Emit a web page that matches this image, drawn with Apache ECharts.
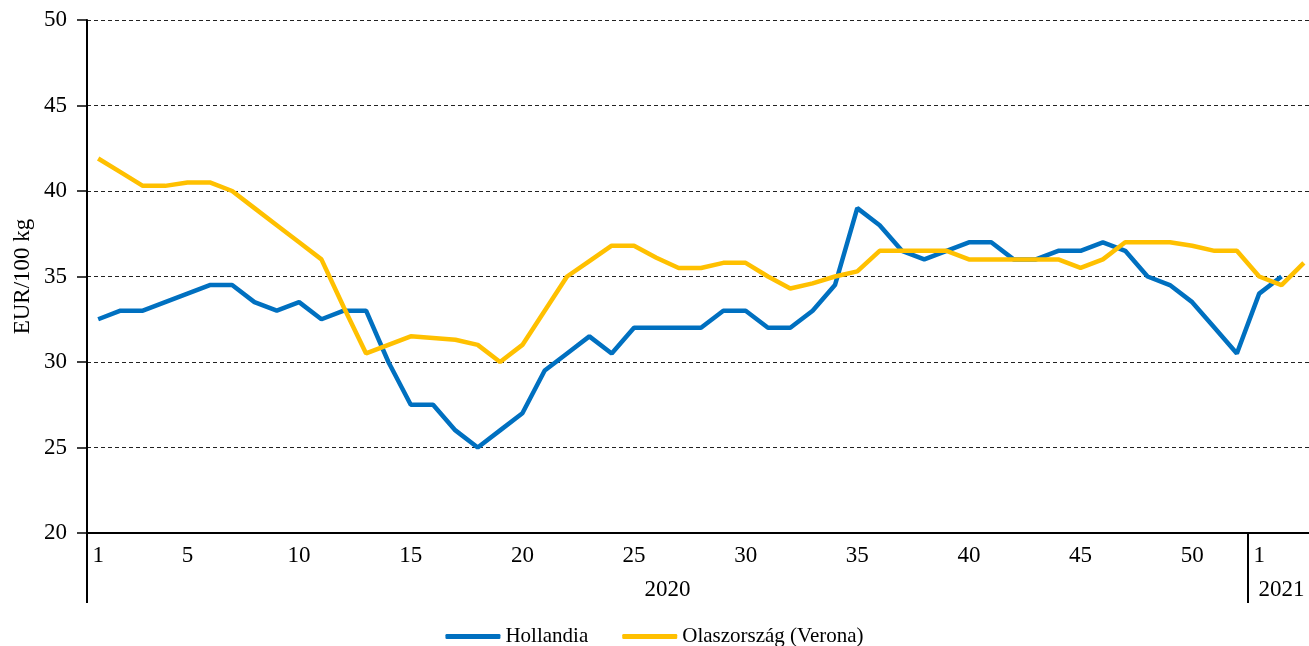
<!DOCTYPE html>
<html>
<head>
<meta charset="utf-8">
<script src="https://cdn.jsdelivr.net/npm/echarts@6/dist/echarts.min.js"></script>
<style>
  html, body { margin: 0; padding: 0; background: #fff; }
  #chart { width: 1309px; height: 646px; }
</style>
</head>
<body>
<div id="chart"></div>
<script>
// weeks: 2020 w1..w52, then 2021 w1..w3
const weeks2020 = Array.from({ length: 52 }, (_, i) => String(i + 1));
const weeks2021 = ['1', '2', '3'];
const weeks = weeks2020.concat(weeks2021);
const shownWeeks = ['1', '5', '10', '15', '20', '25', '30', '35', '40', '45', '50'];
const years = ['2020', '2021'];

const hollandia = [
  32.5, 33, 33, 33.5, 34, 34.5, 34.5, 33.5, 33, 33.5,
  32.5, 33, 33, 30, 27.5, 27.5, 26, 25, 26, 27,
  29.5, 30.5, 31.5, 30.5, 32, 32, 32, 32, 33, 33,
  32, 32, 33, 34.5, 39, 38, 36.5, 36, 36.5, 37,
  37, 36, 36, 36.5, 36.5, 37, 36.5, 35, 34.5, 33.5,
  32, 30.5, 34, 35, null
];
const olasz = [
  41.9, 41.1, 40.3, 40.3, 40.5, 40.5, 40, 39, 38, 37,
  36, 33.2, 30.5, 31, 31.5, 31.4, 31.3, 31, 30, 31,
  33, 35, 35.9, 36.8, 36.8, 36.1, 35.5, 35.5, 35.8, 35.8,
  35, 34.3, 34.6, 35, 35.3, 36.5, 36.5, 36.5, 36.5, 36,
  36, 36, 36, 36, 35.5, 36, 37, 37, 37, 36.8,
  36.5, 36.5, 35, 34.5, 35.8
];

const FONT = "'Liberation Serif', 'Times New Roman', serif";
const chart = echarts.init(document.getElementById('chart'));

const yearBoundary = weeks2020.length;
const yearCenters = [yearBoundary / 2, yearBoundary + weeks2021.length / 2];

chart.setOption({
  animation: false,
  textStyle: { fontFamily: FONT, color: '#000' },
  grid: { left: 87, top: 20, bottom: 113, width: 1228, containLabel: false, outerBoundsMode: 'none' },
  legend: {
    top: 621,
    left: 'center',
    icon: 'roundRect',
    itemWidth: 55,
    itemHeight: 5,
    itemGap: 34,
    textStyle: { fontFamily: FONT, fontSize: 21, color: '#000' },
    data: ['Hollandia', 'Olaszország (Verona)']
  },
  xAxis: [
    {
      type: 'category',
      data: weeks,
      boundaryGap: true,
      axisLine: { lineStyle: { color: '#000', width: 2 } },
      axisTick: { show: false },
      axisLabel: {
        interval: (idx, val) => (idx < yearBoundary ? shownWeeks.includes(val) : idx === yearBoundary),
        fontFamily: FONT,
        fontSize: 23,
        color: '#000',
        margin: 11
      },
      splitLine: { show: false }
    },
    {
      type: 'value',
      position: 'bottom',
      min: 0,
      max: weeks.length,
      axisLine: { show: false },
      splitLine: { show: false },
      axisTick: {
        show: true,
        customValues: [0, yearBoundary],
        length: 70,
        lineStyle: { color: '#000', width: 2 }
      },
      axisLabel: {
        customValues: yearCenters,
        formatter: (v) => years[yearCenters.indexOf(v)] || '',
        fontFamily: FONT,
        fontSize: 23,
        color: '#000',
        margin: 45
      }
    }
  ],
  yAxis: {
    type: 'value',
    min: 20,
    max: 50,
    interval: 5,
    name: 'EUR/100 kg',
    nameLocation: 'middle',
    nameGap: 53,
    nameMoveOverlap: false,
    nameTextStyle: { fontFamily: FONT, fontSize: 23, color: '#000' },
    axisLine: { show: true, lineStyle: { color: '#000', width: 2 } },
    axisTick: { show: true, length: 10, lineStyle: { color: '#000', width: 1.5 } },
    axisLabel: { fontFamily: FONT, fontSize: 23, color: '#000', margin: 20 },
    splitLine: { lineStyle: { color: '#222', width: 1, type: [4, 3] } }
  },
  series: [
    {
      name: 'Hollandia',
      type: 'line',
      data: hollandia,
      symbol: 'none',
      lineStyle: { color: '#0070C0', width: 4.5 },
      itemStyle: { color: '#0070C0' }
    },
    {
      name: 'Olaszország (Verona)',
      type: 'line',
      data: olasz,
      symbol: 'none',
      lineStyle: { color: '#FFC000', width: 4.5 },
      itemStyle: { color: '#FFC000' }
    }
  ]
});
</script>
</body>
</html>
